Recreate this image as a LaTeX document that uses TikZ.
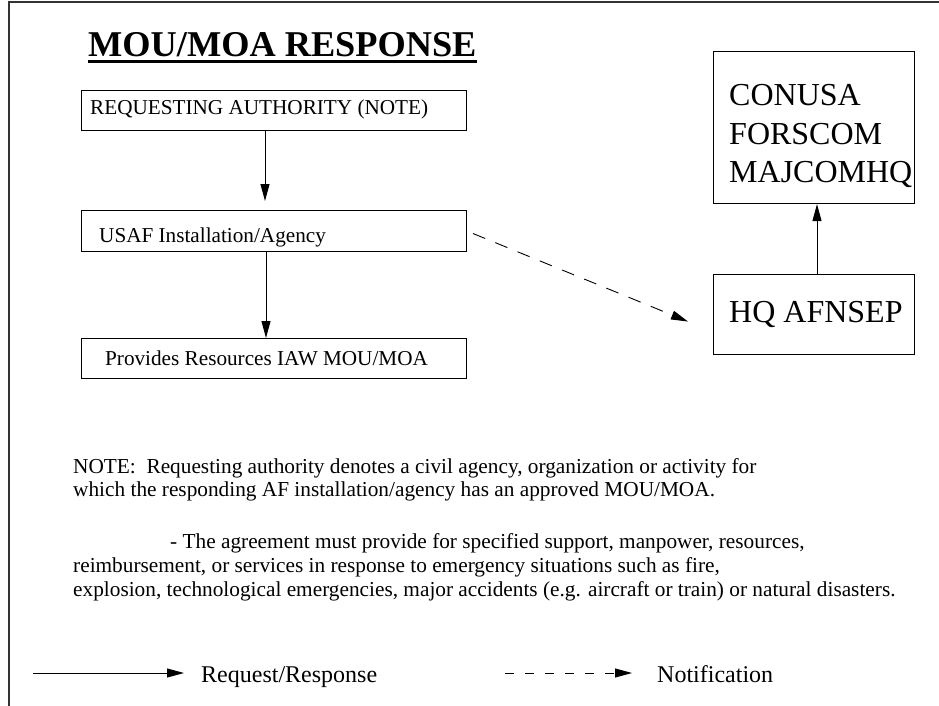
\documentclass[tikz,border=0pt]{standalone}
\usepackage{fontspec}
\setmainfont{Liberation Serif}
\usetikzlibrary{arrows.meta,calc}
\begin{document}
\begin{tikzpicture}[x=1pt,y=-1pt,
  box/.style={draw, line width=1.1pt, inner sep=0pt, anchor=north west},
  boxtext/.style={anchor=base west, inner sep=0pt, font=\fontsize{21.2}{25}\selectfont},
  bigtext/.style={anchor=base west, inner sep=0pt, font=\fontsize{32}{38}\selectfont},
  notetext/.style={anchor=base west, inner sep=0pt, font=\fontsize{21.3}{24}\selectfont},
  legendtext/.style={anchor=base west, inner sep=0pt, font=\fontsize{24}{28}\selectfont},
  tip/.style={-{Triangle[length=17pt,width=9pt]}},
  flow/.style={tip, line width=1pt},
  notify/.style={tip, line width=0.9pt, dash pattern=on 13pt off 11pt},
  notifykey/.style={tip, line width=0.9pt, dash pattern=on 9pt off 11pt},
  frameline/.style={line width=1.6pt, black!80}
]
\useasboundingbox (0,0) rectangle (939,706);

% page frame (top and left edges)
\coordinate (frameTR) at (939,2);
\coordinate (frameTL) at (9,2);
\coordinate (frameBL) at (9,706);
\draw[frameline] (frameTR) -- (frameTL) -- (frameBL);

% heading
\node[anchor=base west, inner sep=0pt, font=\fontsize{36.3}{40}\selectfont\bfseries] (title) at (88,56.7) {MOU/MOA RESPONSE};
\draw[line width=3pt] ([yshift=-5pt]title.base west) -- ([yshift=-5pt]title.base east);

% left column of boxes
\node[box, minimum width=385pt, minimum height=40pt] (req) at (81,90) {};
\node[boxtext] (reqlabel) at (90,115) {REQUESTING AUTHORITY (NOTE)};
\node[box, minimum width=385pt, minimum height=41pt] (inst) at (81,210) {};
\node[boxtext] (instlabel) at (99,242) {USAF Installation/Agency};
\node[box, minimum width=385pt, minimum height=40pt] (res) at (81,338) {};
\node[boxtext] (reslabel) at (105,365) {Provides Resources IAW MOU/MOA};

% right column of boxes
\node[box, minimum width=201pt, minimum height=152pt] (cmd) at (713,51) {};
\node[bigtext] (cmdA) at (729,106) {CONUSA};
\node[bigtext] (cmdB) at (729,144) {FORSCOM};
\node[bigtext] (cmdC) at (729,182) {MAJCOMHQ};
\node[box, minimum width=201pt, minimum height=80pt] (afnsep) at (713,274) {};
\node[bigtext] (afnseplabel) at (729,322) {HQ AFNSEP};

% connectors
\coordinate (colA) at (265,0);
\coordinate (colB) at (266,0);
\coordinate (colC) at (817,0);
\draw[flow, shorten >=9pt] (req.south -| colA) -- (inst.north -| colA);
\draw[flow] (inst.south -| colB) -- (res.north -| colB);
\draw[flow] (afnsep.north -| colC) -- (cmd.south -| colC);
\draw[notify] ([xshift=6pt,yshift=-2.5pt]inst.east) -- ([xshift=-25pt,yshift=-7pt]afnsep.west);

% note
\node[notetext] (noteA) at (73,473) {NOTE:\ \ Requesting authority denotes a civil agency, organization or activity for};
\node[notetext] (noteB) at (73,496) {which the responding AF installation/agency has an approved MOU/MOA.};
\node[notetext] (noteC) at (170,548) {- The agreement must provide for specified support, manpower, resources,};
\node[notetext] (noteD) at (73,572) {reimbursement, or services in response to emergency situations such as fire,};
\node[notetext] (noteE) at (73,596) {explosion, technological emergencies, major accidents (e.g. aircraft or train) or natural disasters.};

% legend
\coordinate (solidA) at (33,673);
\coordinate (solidB) at (184,673);
\draw[flow] (solidA) -- (solidB);
\node[legendtext] (solidkey) at (201,682) {Request/Response};
\coordinate (dashA) at (505,673);
\coordinate (dashB) at (632,673);
\draw[notifykey] (dashA) -- (dashB);
\node[legendtext] (dashkey) at (657,682) {Notification};
\end{tikzpicture}
\end{document}
